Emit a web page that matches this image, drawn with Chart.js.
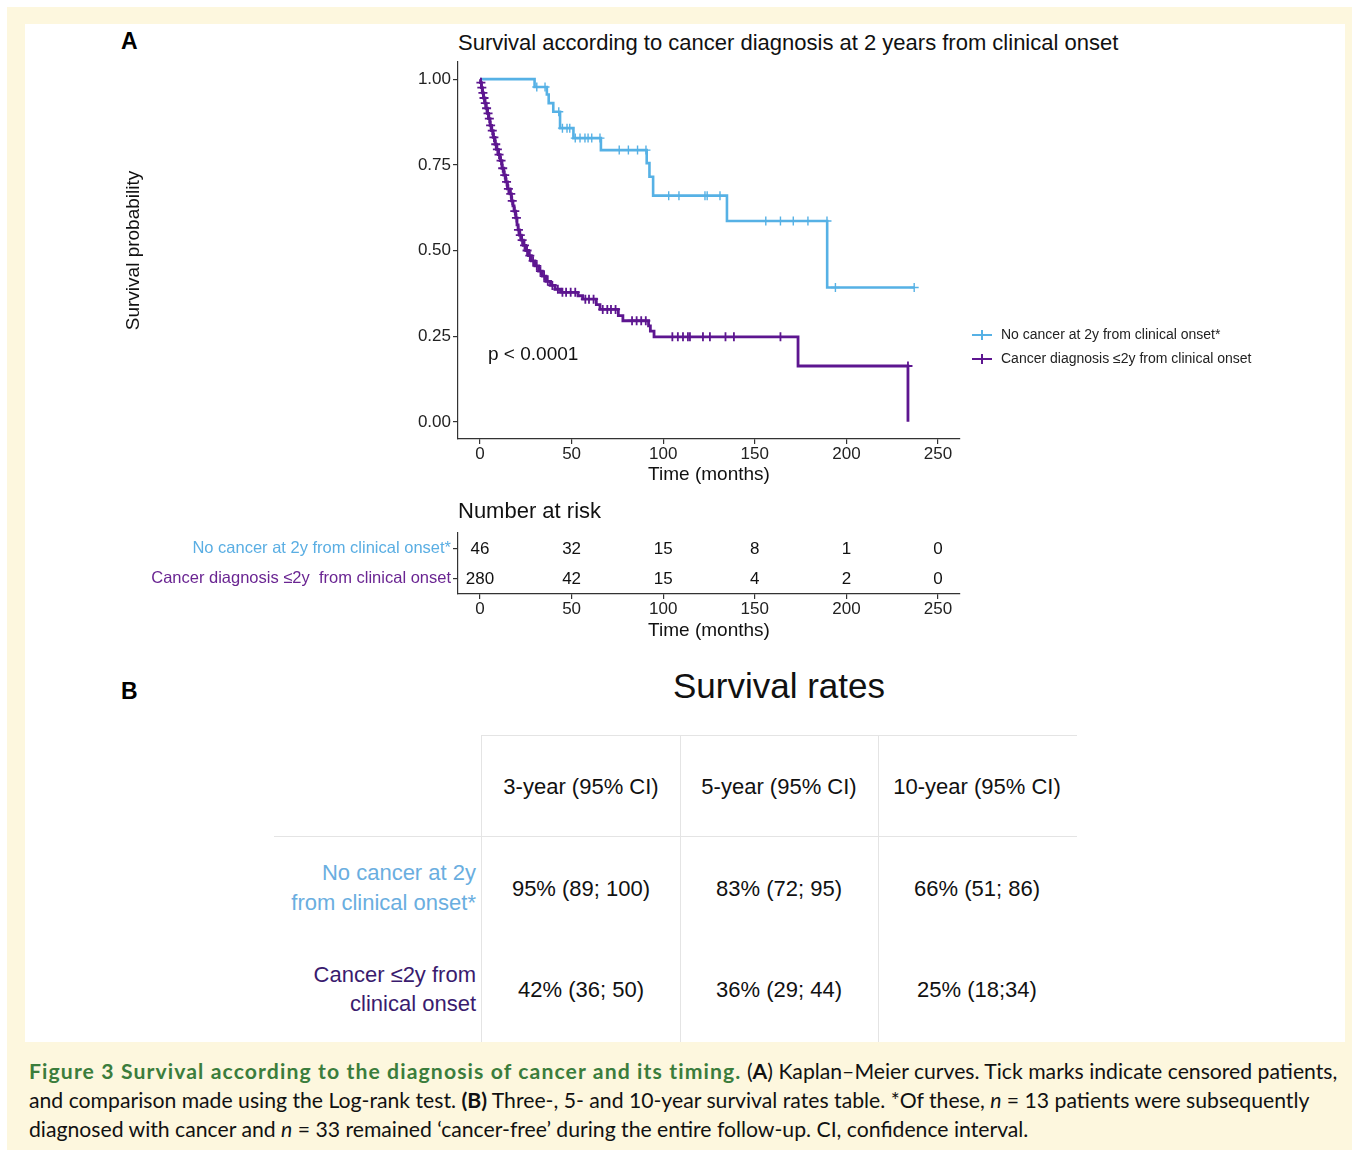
<!DOCTYPE html>
<html>
<head>
<meta charset="utf-8">
<script src="https://cdn.jsdelivr.net/npm/chart.js@4.4.1/dist/chart.umd.min.js"></script>
<style>
  body { margin: 0; width: 1357px; height: 1152px; position: relative; background: #fff; font-family: "Liberation Sans", Arial, sans-serif; overflow: hidden; }
  .abs { position: absolute; white-space: nowrap; }
  .hl { position: absolute; height: 1px; background: #e4e4e4; }
  .vl { position: absolute; width: 1px; background: #e4e4e4; }
  .cap { position: absolute; left: 29px; font-family: Lato, sans-serif; font-size: 21.2px; color: #111; white-space: nowrap; }
  .cap b.g { color: #3b7d3c; letter-spacing: 1.1px; }
  .leg { position: absolute; left: 972px; font-size: 14px; color: #222; white-space: nowrap; }
  .leg .sym { position: absolute; left: 0; top: 8px; width: 20px; height: 2px; }
  .leg .sym::after { content: ""; position: absolute; left: 9px; top: -4px; width: 2px; height: 10px; background: inherit; }
  .leg span.t { position: absolute; left: 29px; top: 0; }
</style>
</head>
<body>
<div class="abs" style="left:7px;top:7px;width:1345px;height:1143px;background:#fdf7de"></div>
<div class="abs" style="left:25px;top:24px;width:1320px;height:1018px;background:#fff"></div>

<div class="abs" style="left:121px;top:28px;font-size:23px;font-weight:bold">A</div>
<div class="abs" style="left:458px;top:30px;font-size:22px;color:#111">Survival according to cancer diagnosis at 2 years from clinical onset</div>
<canvas id="kmChart" style="position:absolute;left:100px;top:40px"></canvas>
<div class="abs" style="left:488px;top:343px;font-size:19px;color:#111">p &lt; 0.0001</div>

<div class="leg" style="top:326px"><div class="sym" style="background:#56b1e5"></div><span class="t">No cancer at 2y from clinical onset*</span></div>
<div class="leg" style="top:350px"><div class="sym" style="background:#5d1690"></div><span class="t">Cancer diagnosis ≤2y from clinical onset</span></div>

<div class="abs" style="left:458px;top:498px;font-size:22px;color:#111">Number at risk</div>
<canvas id="riskChart" style="position:absolute;left:100px;top:520px"></canvas>

<div class="abs" style="left:121px;top:678px;font-size:23px;font-weight:bold">B</div>
<div class="abs" style="left:579px;top:666px;width:400px;text-align:center;font-size:35px;color:#111">Survival rates</div>

<div class="hl" style="left:481px;top:735px;width:596px"></div>
<div class="hl" style="left:274px;top:836px;width:803px"></div>
<div class="vl" style="left:481px;top:735px;height:307px"></div>
<div class="vl" style="left:680px;top:735px;height:307px"></div>
<div class="vl" style="left:878px;top:735px;height:307px"></div>
<div id="rateTable"></div>

<div class="cap" style="top:1058px"><b class="g">Figure 3 Survival according to the diagnosis of cancer and its timing.</b> (<b>A</b>) Kaplan–Meier curves. Tick marks indicate censored patients,</div>
<div class="cap" style="top:1087px">and comparison made using the Log-rank test. <b>(B)</b> Three-, 5- and 10-year survival rates table. *Of these, <i>n</i> = 13 patients were subsequently</div>
<div class="cap" style="top:1116px">diagnosed with cancer and <i>n</i> = 33 remained ‘cancer-free’ during the entire follow-up. CI, confidence interval.</div>

<script>
// Kaplan-Meier: no cancer at 2y from clinical onset
const noCancerTimes = [29.8, 36.5, 37.5, 40, 43.7, 51, 66, 91, 92.5, 94.5, 134.8, 189.5];
const noCancerSurv  = [0.977, 0.955, 0.93, 0.905, 0.857, 0.828, 0.793, 0.755, 0.715, 0.66, 0.586, 0.392];
const noCancerCensor = [31, 35.5, 43, 45, 47.5, 49, 52, 54.6, 57.3, 59, 61, 65.5, 76, 81, 86, 90.6,
  103, 108.6, 122.8, 124, 131, 156, 164, 171, 179, 189.4, 194, 237];

// Kaplan-Meier: cancer diagnosis <=2y from clinical onset
const cancerTimes = [0.3, 0.8, 1.3, 2.0, 2.7, 3.3, 4.0, 4.7, 5.5, 6.3, 7.2, 8.2, 9.0, 10.0, 11.0, 12.0,
  13.0, 14.0, 15.0, 16.4, 17.2, 18.0, 18.6, 19.5, 20.2, 20.8, 21.5, 22.5, 23.6, 25.0, 26.5, 28.0,
  30.0, 32.0, 34.0, 36.0, 38.5, 41.0, 44.0, 53.5, 56.0, 63.5, 65.5, 75.5, 78.0, 92.0, 93.0, 95.0,
  173.6, 233.6];
const cancerSurv = [0.99, 0.975, 0.96, 0.945, 0.93, 0.915, 0.9, 0.885, 0.865, 0.85, 0.83, 0.81, 0.795, 0.78, 0.762, 0.74,
  0.72, 0.7, 0.68, 0.665, 0.645, 0.63, 0.615, 0.595, 0.575, 0.56, 0.545, 0.53, 0.515, 0.5, 0.485, 0.47,
  0.455, 0.44, 0.425, 0.41, 0.398, 0.387, 0.378, 0.368, 0.358, 0.342, 0.328, 0.31, 0.295, 0.28, 0.265, 0.248,
  0.163, 0.0];
const cancerCensor = [0.5, 1.0, 1.6, 2.2, 2.9, 3.6, 4.4, 5.1, 5.8, 6.7, 7.6, 8.6, 9.5, 10.4, 11.5, 12.4,
  13.5, 14.5, 15.5, 16.8, 17.6, 19.0, 19.9, 21.0, 22.0, 23.0, 24.3, 25.7, 27.2, 29.0, 31.0, 33.0,
  35.0, 37.0, 39.5, 42.5, 45.0, 47.0, 49.5, 52.0, 57.5, 59.5, 62.0, 67.0, 69.5, 71.5, 74.0, 83.0,
  85.5, 88.0, 90.5, 105, 108, 110.8, 113.5, 114.6, 121.7, 125.5, 134, 138.6, 164, 233.6];

const groupLabels = ['No cancer at 2y from clinical onset*', 'Cancer diagnosis ≤2y  from clinical onset'];
const xTicks = [0, 50, 100, 150, 200, 250];
const yTicks = [0, 0.25, 0.5, 0.75, 1];

// number at risk
const riskNoCancer = [46, 32, 15, 8, 1, 0];
const riskCancer = [280, 42, 15, 4, 2, 0];

// survival rates table (panel B)
const rateHeaders = ['3-year (95% CI)', '5-year (95% CI)', '10-year (95% CI)'];
const rateNoCancer = ['95% (89; 100)', '83% (72; 95)', '66% (51; 86)'];
const rateCancer = ['42% (36; 50)', '36% (29; 44)', '25% (18;34)'];

const blue = '#56b1e5';
const purple = '#5d1690';

Chart.defaults.font.family = '"Liberation Sans", Arial, sans-serif';
Chart.defaults.color = '#222';

// step curve: start at 1, drop at each event, extend to last censor
function kmLine(times, surv, censor) {
  const pts = [{ x: 0, y: 1 }];
  times.forEach((t, i) => pts.push({ x: t, y: surv[i] }));
  const lastC = censor[censor.length - 1];
  const lastT = times[times.length - 1];
  if (lastC > lastT) pts.push({ x: lastC, y: surv[surv.length - 1] });
  return pts;
}
function censorPts(times, surv, censor) {
  return censor.map(c => {
    let s = 1;
    times.forEach((t, i) => { if (t < c) s = surv[i]; });
    return { x: c, y: s };
  });
}

const kmCanvas = document.getElementById('kmChart');
kmCanvas.width = 880; kmCanvas.height = 460;
new Chart(kmCanvas, {
  type: 'line',
  data: {
    datasets: [
      { data: kmLine(cancerTimes, cancerSurv, cancerCensor), borderColor: purple, borderWidth: 2.8,
        stepped: true, pointRadius: 0, fill: false },
      { data: censorPts(cancerTimes, cancerSurv, cancerCensor), showLine: false, pointStyle: 'cross',
        pointRadius: 4.5, pointBorderWidth: 1.8, pointBorderColor: purple, borderColor: purple },
      { data: kmLine(noCancerTimes, noCancerSurv, noCancerCensor), borderColor: blue, borderWidth: 2.6,
        stepped: true, pointRadius: 0, fill: false },
      { data: censorPts(noCancerTimes, noCancerSurv, noCancerCensor), showLine: false, pointStyle: 'cross',
        pointRadius: 4.5, pointBorderWidth: 1.4, pointBorderColor: blue, borderColor: blue }
    ]
  },
  options: {
    responsive: false,
    animation: false,
    clip: false,
    layout: { padding: { left: 0, right: 20, top: 22, bottom: 0 } },
    plugins: { legend: { display: false }, tooltip: { enabled: false } },
    scales: {
      x: {
        type: 'linear', min: -12, max: 262,
        afterBuildTicks: s => { s.ticks = xTicks.map(v => ({ value: v })); },
        afterFit: s => { s.height = 61; },
        grid: { drawOnChartArea: false, color: '#333', tickLength: 5, lineWidth: 1.2 },
        border: { color: '#333', width: 1.2 },
        ticks: { font: { size: 17 }, color: '#222', padding: 0, maxRotation: 0 },
        title: { display: true, text: 'Time (months)', font: { size: 19 }, color: '#111', padding: { top: 0, bottom: 14 } }
      },
      y: {
        type: 'linear', min: -0.05, max: 1.05,
        afterBuildTicks: s => { s.ticks = yTicks.map(v => ({ value: v })); },
        afterFit: s => { s.width = 358; },
        grid: { drawOnChartArea: false, color: '#333', tickLength: 5, lineWidth: 1.2 },
        border: { color: '#333', width: 1.2 },
        ticks: { font: { size: 17 }, color: '#222', padding: 2, callback: v => v.toFixed(2) },
        title: { display: true, text: 'Survival probability', font: { size: 19 }, color: '#111', padding: { top: 22, bottom: 0 } }
      }
    }
  }
});

// number at risk table, drawn on the same time scale
const riskText = {
  id: 'riskText',
  afterDatasetsDraw(chart) {
    const ctx = chart.ctx;
    ctx.save();
    ctx.font = '17px "Liberation Sans", Arial, sans-serif';
    ctx.fillStyle = '#111';
    ctx.textAlign = 'center';
    ctx.textBaseline = 'middle';
    chart.data.datasets.forEach((ds, i) => {
      chart.getDatasetMeta(i).data.forEach((pt, j) => ctx.fillText(String(ds.counts[j]), pt.x, pt.y + 1));
    });
    ctx.restore();
  }
};
const riskCanvas = document.getElementById('riskChart');
riskCanvas.width = 880; riskCanvas.height = 125;
new Chart(riskCanvas, {
  type: 'line',
  data: {
    labels: groupLabels,
    datasets: [
      { counts: riskNoCancer, data: xTicks.map(t => ({ x: t, y: groupLabels[0] })), showLine: false, pointRadius: 0 },
      { counts: riskCancer, data: xTicks.map(t => ({ x: t, y: groupLabels[1] })), showLine: false, pointRadius: 0 }
    ]
  },
  options: {
    responsive: false,
    animation: false,
    clip: false,
    layout: { padding: { left: 0, right: 20, top: 13, bottom: 0 } },
    plugins: { legend: { display: false }, tooltip: { enabled: false } },
    scales: {
      x: {
        type: 'linear', min: -12, max: 262,
        afterBuildTicks: s => { s.ticks = xTicks.map(v => ({ value: v })); },
        afterFit: s => { s.height = 51; },
        grid: { drawOnChartArea: false, color: '#333', tickLength: 5, lineWidth: 1.2 },
        border: { color: '#333', width: 1.2 },
        ticks: { font: { size: 17 }, color: '#222', padding: 0, maxRotation: 0 },
        title: { display: true, text: 'Time (months)', font: { size: 19 }, color: '#111', padding: { top: 0, bottom: 3 } }
      },
      y: {
        type: 'category', labels: groupLabels, offset: true,
        afterFit: s => { s.width = 358; },
        grid: { drawOnChartArea: false, color: '#333', tickLength: 5, lineWidth: 1.2 },
        border: { color: '#333', width: 1.2 },
        ticks: { font: { size: 16.5 }, padding: 2, color: c => (c.index === 0 ? '#5aaee3' : '#6a2592') }
      }
    }
  },
  plugins: [riskText]
});

// panel B table cells
const tbl = document.getElementById('rateTable');
const colCenters = [581, 779, 977];
function cell(text, x, y, color, align) {
  const d = document.createElement('div');
  d.className = 'abs';
  d.style.fontSize = '22px';
  d.style.color = color;
  d.style.top = (y - 13) + 'px';
  if (align === 'right') { d.style.right = (1357 - x) + 'px'; d.style.textAlign = 'right'; }
  else { d.style.left = (x - 100) + 'px'; d.style.width = '200px'; d.style.textAlign = 'center'; }
  d.textContent = text;
  tbl.appendChild(d);
}
rateHeaders.forEach((h, i) => cell(h, colCenters[i], 787, '#111'));
rateNoCancer.forEach((v, i) => cell(v, colCenters[i], 889, '#111'));
rateCancer.forEach((v, i) => cell(v, colCenters[i], 990, '#111'));
cell('No cancer at 2y', 476, 873, '#6aaee0', 'right');
cell('from clinical onset*', 476, 903, '#6aaee0', 'right');
cell('Cancer ≤2y from', 476, 975, '#3a1b6e', 'right');
cell('clinical onset', 476, 1004, '#3a1b6e', 'right');
</script>
</body>
</html>
